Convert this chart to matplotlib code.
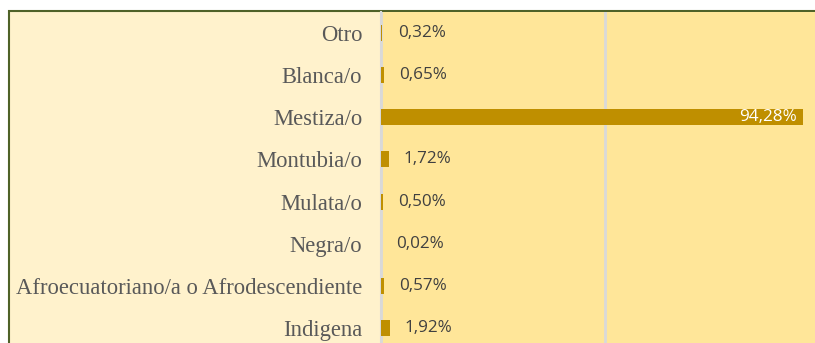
import matplotlib
matplotlib.use('Agg')
import matplotlib.pyplot as plt
from matplotlib.patches import Rectangle

categories = ['Otro', 'Blanca/o', 'Mestiza/o', 'Montubia/o', 'Mulata/o',
              'Negra/o', 'Afroecuatoriano/a o Afrodescendiente', 'Indigena']
values = [0.32, 0.65, 94.28, 1.72, 0.50, 0.02, 0.57, 1.92]
value_labels = ['0,32%', '0,65%', '94,28%', '1,72%', '0,50%', '0,02%', '0,57%', '1,92%']

W, H = 815, 343
PX_PER_UNIT = 4.476
AX_RIGHT = 840  # plot area runs past the right edge of the canvas

fig = plt.figure(figsize=(W / 100, H / 100), dpi=100)
fig.patch.set_facecolor('white')

# outer chart area with green frame (top and left edges visible)
frame = Rectangle((9 / W, -0.1), 1.2, 1 - 11 / H + 0.1, transform=fig.transFigure,
                  facecolor='#FFF2CC', edgecolor='#4F6228', linewidth=1.5, zorder=-5)
fig.patches.append(frame)

ax = fig.add_axes([381 / W, 0, (AX_RIGHT - 381) / W, 1 - 12 / H])
ax.set_facecolor('#FFE699')

y = list(range(len(categories)))
ax.barh(y, values, height=0.38, color='#BF8F00', zorder=3)

ax.set_xticks([0, 50])
ax.set_xlim(0, (AX_RIGHT - 381) / PX_PER_UNIT)
ax.set_ylim(7.36, -0.5)
ax.xaxis.grid(True, color='#D9D9D9', linewidth=2)
ax.set_axisbelow(True)
ax.tick_params(axis='x', bottom=False, labelbottom=False)
ax.tick_params(axis='y', length=0, pad=13.5)
ax.set_yticks(y)
ax.set_yticklabels(categories, family='Liberation Serif', fontsize=16.3, color='#595959')
for s in ['top', 'right', 'bottom']:
    ax.spines[s].set_visible(False)
ax.spines['left'].set_color('#D9D9D9')
ax.spines['left'].set_linewidth(1.5)

for yi, v, lab in zip(y, values, value_labels):
    if v > 50:
        ax.annotate(lab, (v, yi), xytext=(-4.3, 0), textcoords='offset points',
                    ha='right', va='center', color='white', fontsize=12.3,
                    family='Open Sans', zorder=4)
    else:
        ax.annotate(lab, (v, yi), xytext=(11, 0), textcoords='offset points',
                    ha='left', va='center', color='#404040', fontsize=12.3,
                    family='Open Sans', zorder=4)

fig.savefig('out.png', dpi=100, facecolor=fig.get_facecolor())
